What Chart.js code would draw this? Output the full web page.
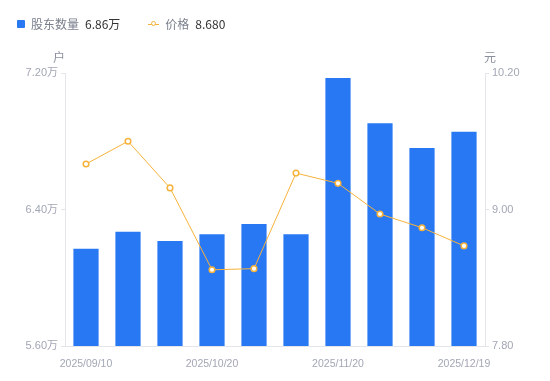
<!DOCTYPE html>
<html>
<head>
<meta charset="utf-8">
<script src="https://cdn.jsdelivr.net/npm/chart.js@4.4.1/dist/chart.umd.min.js"></script>
<style>
  html, body { margin: 0; padding: 0; background: #fff; }
  #wrap { position: relative; width: 550px; height: 381px; font-family: "Noto Sans CJK SC", "Noto Sans", sans-serif; }
  #legend { position: absolute; left: 17px; top: 15px; font-size: 12px; line-height: 18px; display: flex; align-items: center; white-space: nowrap; }
  .item { display: flex; align-items: center; margin-right: 28px; }
  .sq { width: 8px; height: 8px; background: #2878f4; border-radius: 1px; margin-right: 6px; }
  .ln { position: relative; width: 11px; height: 8px; margin-right: 6px; }
  .ln:before { content: ""; position: absolute; left: 0; right: 0; top: 3.5px; height: 1px; background: #f7b23b; }
  .ln:after { content: ""; position: absolute; left: 2.5px; top: 1px; width: 3px; height: 3px; border: 1.5px solid #f7b23b; border-radius: 50%; background: #fff; }
  .nm { color: #7a7f8c; margin-right: 6px; }
  .vl { color: #333; }
  canvas { position: absolute; left: 0; top: 0; }
</style>
</head>
<body>
<div id="wrap">
  <canvas id="c" width="550" height="381"></canvas>
  <div id="legend">
    <div class="item"><span class="sq"></span><span class="nm">股东数量</span><span class="vl">6.86万</span></div>
    <div class="item"><span class="ln"></span><span class="nm">价格</span><span class="vl">8.680</span></div>
  </div>
</div>
<script>
const categories = ["2025/09/10","2025/09/20","2025/09/30","2025/10/20","2025/10/31","2025/11/10","2025/11/20","2025/11/30","2025/12/10","2025/12/19"];
const holders = [6.17, 6.27, 6.215, 6.255, 6.315, 6.255, 7.17, 6.905, 6.76, 6.855];
const prices = [9.40, 9.60, 9.19, 8.47, 8.48, 9.32, 9.23, 8.96, 8.84, 8.68];
const xTickLabels = ["2025/09/10", "2025/10/20", "2025/11/20", "2025/12/19"];
const leftTicks = [5.6, 6.4, 7.2];
const rightTicks = [7.8, 9.0, 10.2];
const leftUnit = "户";
const rightUnit = "元";

const tickColor = "#a3a7b5";
const lineColor = "#e3e5ea";

const unitPlugin = {
  id: "units",
  afterDraw(chart) {
    const ctx = chart.ctx;
    const a = chart.chartArea;
    ctx.save();
    ctx.font = "12px 'Noto Sans CJK SC', sans-serif";
    ctx.fillStyle = "#8a8f9c";
    ctx.textAlign = "center";
    ctx.textBaseline = "middle";
    ctx.fillText(leftUnit, a.left - 6, a.top - 16);
    ctx.fillText(rightUnit, a.right + 5, a.top - 16);
    ctx.restore();
  }
};

new Chart(document.getElementById("c"), {
  data: {
    labels: categories,
    datasets: [
      {
        type: "line",
        label: "价格",
        data: prices,
        yAxisID: "y1",
        borderColor: "#f7b23b",
        borderWidth: 1,
        backgroundColor: "#ffffff",
        pointBackgroundColor: "#ffffff",
        pointBorderColor: "#f7b23b",
        pointBorderWidth: 1.5,
        pointRadius: 2.8,
        tension: 0,
        order: 0
      },
      {
        type: "bar",
        label: "股东数量",
        data: holders,
        yAxisID: "y",
        backgroundColor: "#2878f4",
        borderWidth: 0,
        barPercentage: 0.6,
        categoryPercentage: 1.0,
        order: 1
      }
    ]
  },
  options: {
    responsive: false,
    animation: false,
    layout: { padding: { top: 73, left: 0, right: 0, bottom: 0 } },
    plugins: { legend: { display: false }, tooltip: { enabled: false } },
    scales: {
      x: {
        type: "category",
        offset: true,
        grid: { display: false },
        border: { display: true, color: lineColor, width: 1 },
        ticks: {
          autoSkip: false,
          maxRotation: 0,
          color: tickColor,
          font: { size: 10.5, family: "'Liberation Sans', Arial, sans-serif" },
          padding: 4,
          callback(v, i) {
            const lab = categories[i];
            return xTickLabels.includes(lab) ? lab : "";
          }
        },
        afterFit(s) { s.height = 35; }
      },
      y: {
        type: "linear",
        position: "left",
        min: 5.6,
        max: 7.2,
        afterBuildTicks(s) { s.ticks = leftTicks.map(v => ({ value: v })); },
        grid: { drawOnChartArea: false, drawTicks: true, tickLength: 4, color: lineColor },
        border: { display: true, color: lineColor },
        ticks: {
          color: tickColor,
          font: { size: 11, family: "'Liberation Sans', 'Noto Sans CJK SC', sans-serif" },
          padding: 3,
          callback(v) { return v.toFixed(2) + "万"; }
        },
        afterFit(s) { s.width = 65; }
      },
      y1: {
        type: "linear",
        position: "right",
        min: 7.8,
        max: 10.2,
        afterBuildTicks(s) { s.ticks = rightTicks.map(v => ({ value: v })); },
        grid: { drawOnChartArea: false, drawTicks: true, tickLength: 4, color: lineColor },
        border: { display: true, color: lineColor },
        ticks: {
          color: tickColor,
          font: { size: 11, family: "'Liberation Sans', Arial, sans-serif" },
          padding: 3,
          callback(v) { return v.toFixed(2); }
        },
        afterFit(s) { s.width = 65; }
      }
    }
  },
  plugins: [unitPlugin]
});
</script>
</body>
</html>
